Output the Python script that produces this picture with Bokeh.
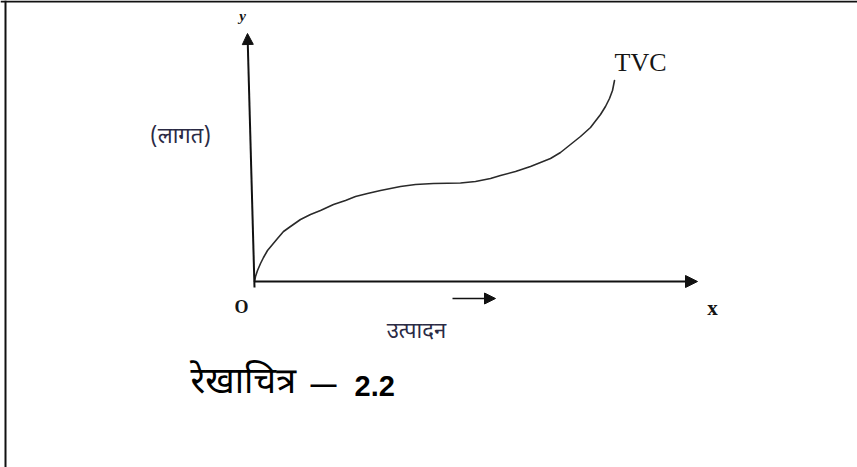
from bokeh.plotting import figure
from bokeh.models import Range1d, Arrow, NormalHead, Span, Label
from bokeh.embed import file_html
from bokeh.resources import INLINE

# Total variable cost curve: output (x) against cost (y)
output = [0.0, 0.1, 0.3, 0.6, 0.9, 1.3, 1.8, 2.3, 2.9, 3.6, 4.6, 5.6, 6.6,
          7.9, 9.1, 10.1, 11.3, 12.6, 14.6, 16.1, 17.9, 19.3, 20.6, 22.1,
          23.6, 24.6, 26.1, 27.6, 29.6, 30.6, 31.6, 32.6, 33.6, 34.6, 35.1,
          35.5, 35.8, 36.0]
cost = [0.0, 0.5, 1.1, 1.8, 2.4, 3.1, 3.7, 4.3, 5.0, 5.5, 6.2, 6.7, 7.1,
        7.7, 8.1, 8.5, 8.8, 9.1, 9.5, 9.7, 9.8, 9.83, 9.85, 10.0, 10.3,
        10.6, 11.0, 11.5, 12.3, 12.9, 13.7, 14.5, 15.4, 16.7, 17.5, 18.3,
        19.1, 20.1]

curve_label = "TVC"
x_name, y_name = "x", "y"
origin_name = "O"
y_title = "(लागत)"
x_title = "उत्पादन"
caption_word, caption_dash, caption_num = "रेखाचित्र", "—", "2.2"

W, H = 857, 467
p = figure(width=W, height=H, output_backend="svg", toolbar_location=None,
           x_range=Range1d(-25.4, 60.3), y_range=Range1d(-18.6, 28.1),
           min_border=0)
p.axis.visible = False
p.grid.visible = False
p.outline_line_color = None
p.background_fill_color = "white"
p.border_fill_color = "white"

ink = "#111111"

# page frame (left and top edges)
p.add_layout(Span(location=-24.9, dimension="height", line_color=ink, line_width=2))
p.add_layout(Span(location=28.0, dimension="width", line_color=ink, line_width=2))

# axes drawn as arrows from the origin
p.add_layout(Arrow(x_start=0, y_start=-0.6, x_end=-0.7, y_end=24.8,
                   line_color=ink, line_width=2,
                   end=NormalHead(size=11, fill_color=ink, line_color=ink)))
p.add_layout(Arrow(x_start=0, y_start=0, x_end=44.3, y_end=0,
                   line_color=ink, line_width=2,
                   end=NormalHead(size=12, fill_color=ink, line_color=ink)))
# direction of increasing output
p.add_layout(Arrow(x_start=19.8, y_start=-1.7, x_end=24.1, y_end=-1.7,
                   line_color=ink, line_width=1.5,
                   end=NormalHead(size=11, fill_color=ink, line_color=ink)))

p.line(output, cost, line_color="#2a2a2a", line_width=1.6,
       line_join="round", line_cap="round")

serif = "Liberation Serif"
deva = "Noto Sans Devanagari, Noto Sans, sans-serif"
sans = "Liberation Sans"


def lab(x, y, text, font, size, align="center", style="normal", color="#151515"):
    p.add_layout(Label(x=x, y=y, text=text, text_font=font, text_font_size=size,
                       text_align=align, text_baseline="middle",
                       text_font_style=style, text_color=color))


lab(-1.2, 26.6, y_name, serif, "15px", style="bold italic")
lab(output[-1] + 2.6, 21.9, curve_label, serif, "26px")
lab(-1.3, -2.5, origin_name, serif, "18px", style="bold")
lab(45.8, -2.6, x_name, serif, "21px", style="bold")
lab(-7.4, 14.4, y_title, deva, "22px", color="#2a2a44")
lab(16.2, -5.1, x_title, deva, "22px", color="#2a2a44")
# figure caption
lab(-6.4, -10.3, caption_word, deva, "36px", align="left", color="#000000")
lab(5.6, -10.2, caption_dash, sans, "26px", align="left", style="bold", color="#000000")
lab(10.0, -10.4, caption_num, sans, "29px", align="left", style="bold", color="#000000")

open("out.html", "w").write(file_html(p, INLINE))
